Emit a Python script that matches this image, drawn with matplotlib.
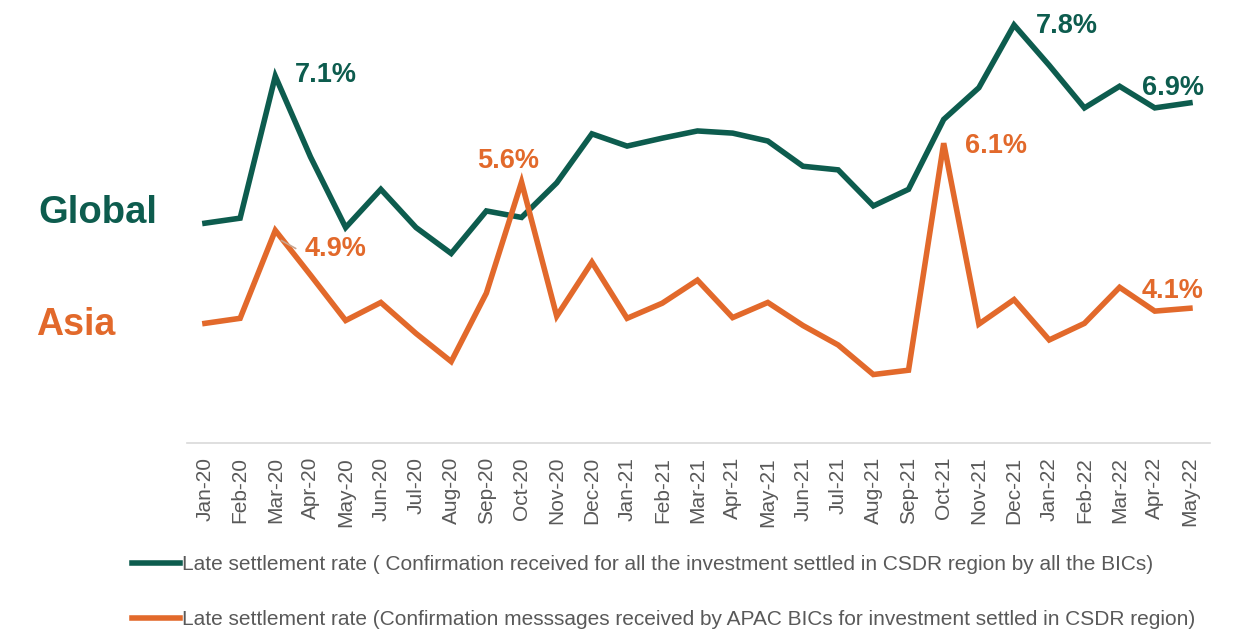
import matplotlib.pyplot as plt

plt.rcParams['font.family'] = ['Liberation Sans', 'DejaVu Sans']

months = ['Jan-20', 'Feb-20', 'Mar-20', 'Apr-20', 'May-20', 'Jun-20', 'Jul-20', 'Aug-20',
          'Sep-20', 'Oct-20', 'Nov-20', 'Dec-20', 'Jan-21', 'Feb-21', 'Mar-21', 'Apr-21',
          'May-21', 'Jun-21', 'Jul-21', 'Aug-21', 'Sep-21', 'Oct-21', 'Nov-21', 'Dec-21',
          'Jan-22', 'Feb-22', 'Mar-22', 'Apr-22', 'May-22']

# late settlement rate, %
global_rate = [5.05, 5.12, 7.09, 5.97, 4.99, 5.52, 4.99, 4.63, 5.22, 5.13, 5.61, 6.29,
               6.12, 6.23, 6.33, 6.30, 6.19, 5.84, 5.79, 5.29, 5.52, 6.49, 6.93, 7.80,
               7.24, 6.65, 6.95, 6.65, 6.72]
asia_rate = [3.66, 3.73, 4.95, 4.33, 3.70, 3.95, 3.52, 3.13, 4.08, 5.62, 3.76, 4.51,
             3.73, 3.94, 4.26, 3.74, 3.95, 3.63, 3.36, 2.95, 3.01, 6.16, 3.65, 3.99,
             3.43, 3.66, 4.16, 3.83, 3.87]

global_label = 'Late settlement rate ( Confirmation received for all the investment settled in CSDR region by all the BICs)'
asia_label = 'Late settlement rate (Confirmation messsages received by APAC BICs for investment settled in CSDR region)'

# (month index, text, offset in pixels)
global_notes = [(2, '7.1%', (20, 1)), (23, '7.8%', (22, -1)), (28, '6.9%', (-48, 15))]
asia_notes = [(2, '4.9%', (29, -19)), (9, '5.6%', (-44, 21)), (21, '6.1%', (21, -3)),
              (28, '4.1%', (-48, 17))]

GREEN = '#0D5C4E'
ORANGE = '#E2692B'
GREY = '#595959'

W, H = 1235, 632
fig = plt.figure(figsize=(W / 100, H / 100), dpi=100)
ax = fig.add_axes([187 / W, 1 - 443 / H, (1210 - 187) / W, (443 - 10.6) / H])

x = list(range(len(months)))
l1, = ax.plot(x, global_rate, color=GREEN, lw=4, solid_joinstyle='miter', label=global_label)
l2, = ax.plot(x, asia_rate, color=ORANGE, lw=4, solid_joinstyle='miter', label=asia_label)

ax.set_xlim(-0.51, 28.57)
ax.set_ylim(2.0, 8.0)
ax.set_xticks(x)
ax.set_xticklabels(months, rotation=90, color=GREY, fontsize=15)
ax.tick_params(axis='x', length=0, pad=10)
ax.set_yticks([])
for side in ['top', 'right', 'left']:
    ax.spines[side].set_visible(False)
ax.spines['bottom'].set_color('#D9D9D9')
ax.spines['bottom'].set_linewidth(1.2)

for i, txt, off in global_notes:
    ax.annotate(txt, xy=(i, global_rate[i]), xytext=off, textcoords='offset pixels',
                color=GREEN, fontsize=19.5, fontweight='bold', ha='left', va='center')
for i, txt, off in asia_notes:
    ax.annotate(txt, xy=(i, asia_rate[i]), xytext=off, textcoords='offset pixels',
                color=ORANGE, fontsize=19.5, fontweight='bold', ha='left', va='center')

# small leader line at the 4.9% label
ax.annotate('', xy=(2.1, asia_rate[2] - 0.12), xytext=(2.65, asia_rate[2] - 0.27),
            arrowprops=dict(arrowstyle='-', color='#C8A48E', lw=1.2))

fig.text(38 / W, 1 - 213 / H, 'Global', color=GREEN, fontsize=27.5, fontweight='bold',
         ha='left', va='center')
fig.text(36 / W, 1 - 325 / H, 'Asia', color=ORANGE, fontsize=27, fontweight='bold',
         ha='left', va='center')

fig.legend(handles=[l1, l2], loc='upper left', bbox_to_anchor=(132 / W, 1 - 555 / H),
           frameon=False, fontsize=15, labelcolor=GREY, handlelength=2.3,
           handletextpad=0.12, labelspacing=1.75, borderpad=0, borderaxespad=0)

fig.savefig('out.png', dpi=100)
